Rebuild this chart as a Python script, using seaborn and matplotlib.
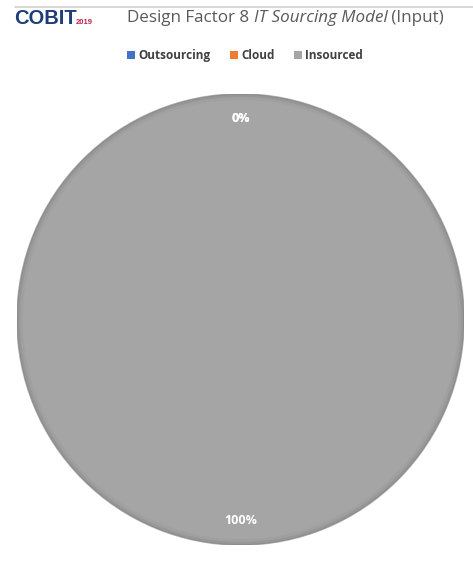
import matplotlib
matplotlib.use("Agg")
import matplotlib.pyplot as plt
from matplotlib.patches import Patch, Circle
import seaborn as sns

# Sourcing model shares (percent)
categories = ["Outsourcing", "Cloud", "Insourced"]
shares = [0, 0, 100]
series_colors = ["#4472C4", "#ED7D31", "#A5A5A5"]

title_parts = [("Design Factor 8 ", "normal"), ("IT Sourcing Model", "italic"), (" (Input)", "normal")]

sns.set_theme(style="white")
plt.rcParams["font.family"] = ["Open Sans", "DejaVu Sans"]

W, H = 473, 569
fig = plt.figure(figsize=(W / 100, H / 100), dpi=100)
fig.patch.set_facecolor("white")

# pie area (figure fractions)
left, right, top, bottom = 17, 464, 94, 545
ax = fig.add_axes([left / W, 1 - bottom / H, (right - left) / W, (bottom - top) / H])

palette = sns.color_palette(series_colors)
wedges, texts, autotexts = ax.pie(
    shares,
    colors=palette,
    startangle=90,
    counterclock=False,
    autopct="%.0f%%",
    pctdistance=0.89,
    radius=1.0,
    wedgeprops=dict(edgecolor="none", linewidth=0),
    textprops=dict(color="white", fontsize=9, fontweight="bold"),
)
# soft darker rim around the pie
for i, (lw, a) in enumerate([(1.2, 0.55), (2.5, 0.25), (4.5, 0.12)]):
    ax.add_patch(Circle((0, 0), 1.0 - i * 0.006, fill=False, edgecolor="#7f7f7f",
                        linewidth=lw, alpha=a, zorder=3))
ax.set_xlim(-1.0, 1.0)
ax.set_ylim(-1.0, 1.0)
ax.set_aspect("auto")
ax.axis("off")

# thin rule along the top
fig.add_artist(plt.Line2D([15 / W, 1.0], [1 - 6.5 / H, 1 - 6.5 / H], color="#d0d0d0", linewidth=1.2))

# logo
fig.text(14 / W, 1 - 19 / H, "COBIT", color="#1f3c7a", fontsize=14.5, fontweight="heavy",
         va="center", ha="left", family=["Liberation Sans", "DejaVu Sans"])
fig.text(76 / W, 1 - 22 / H, "2019", color="#c0244c", fontsize=5.5, fontweight="bold",
         va="center", ha="left", family=["Liberation Sans", "DejaVu Sans"])

# title built from normal / italic pieces
renderer = fig.canvas.get_renderer()
fs = 10
pieces = []
for txt, style in title_parts:
    t = fig.text(0, 1 - 18 / H, txt, fontsize=fs, style=style, color="#595959",
                 va="center", ha="left")
    pieces.append(t)
widths = [p.get_window_extent(renderer).width for p in pieces]
scale = 316 / sum(widths)
for p in pieces:
    p.set_fontsize(fs * scale)
widths = [p.get_window_extent(renderer).width for p in pieces]
x = 127
for p, w in zip(pieces, widths):
    p.set_x(x / W)
    x += w

# legend
handles = [Patch(facecolor=c, edgecolor="none", label=l) for c, l in zip(palette, categories)]
fig.legend(handles=handles, loc="center", bbox_to_anchor=(245 / W, 1 - 56 / H), ncol=3,
           frameon=False, handlelength=0.7, handleheight=0.7, handletextpad=0.3,
           columnspacing=1.6, prop=dict(weight="bold", size=8.5), labelcolor="#404040")

fig.savefig("out.png", dpi=100, facecolor="white")
